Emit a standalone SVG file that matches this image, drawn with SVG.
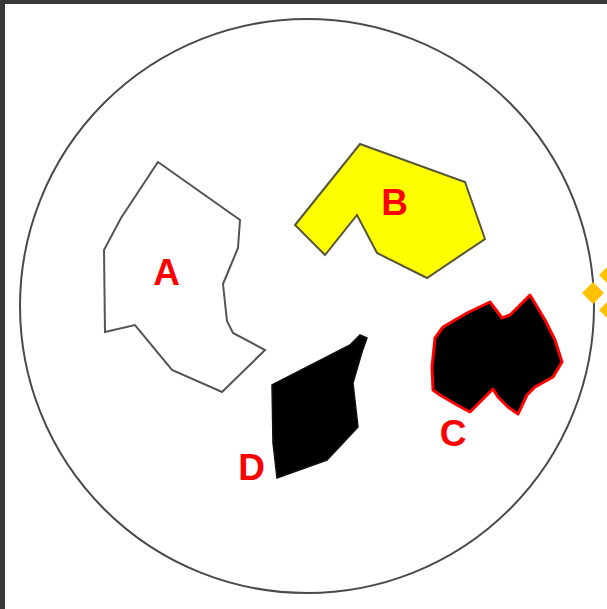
<svg xmlns="http://www.w3.org/2000/svg" width="607" height="609" viewBox="0 0 607 609">
<style>
.lbl{font-family:"Liberation Sans",Arial,sans-serif;font-weight:bold;font-size:37px;fill:#ff0000;text-anchor:middle}
.handle{fill:#ffc000}
</style>
<rect x="0" y="0" width="607" height="609" fill="#ffffff"/>
<rect x="0" y="0" width="607" height="4" fill="#383838"/>
<rect x="0" y="0" width="5" height="609" fill="#383838"/>
<g id="dish">
<circle cx="307" cy="306" r="287" fill="none" stroke="#4a4a4a" stroke-width="2"/>
</g>
<g id="connectors"></g>
<g id="A">
<polygon points="158,162 240,220 238,248 223,284 227,321 233,333 265,350 222,392 172,370 135,325 105,332 104,250 121,218" fill="#ffffff" stroke="#555555" stroke-width="2"/>
<text class="lbl" x="166.5" y="285">A</text>
</g>
<g id="B">
<polygon points="360,144 465,182 485,239 427,278 377,253 357,215 325,255 295,225" fill="#ffff00" stroke="#55553a" stroke-width="2"/>
<text class="lbl" x="394.5" y="215">B</text>
</g>
<g id="C">
<polygon points="435,338 443,327 467,313 490,302 502,318 510,315 520,305 530,295 545,320 555,340 562,362 553,377 535,387 527,395 518,414 508,407 498,397 493,389 487,395 470,412 457,405 440,395 433,390 432,367" fill="#000000" stroke="#ff0000" stroke-width="3" stroke-linejoin="round"/>
<text class="lbl" x="453" y="446">C</text>
</g>
<g id="D">
<polygon points="272,385 350,345 360,335 367,338 362,352 353,383 358,427 327,460 277,478 273,443" fill="#000000" stroke="#111111" stroke-width="1.5"/>
<text class="lbl" x="251.5" y="480">D</text>
</g>
<g id="handles">
<polygon class="handle" points="593,282 604,293 593,304 582,293"/>
<polygon class="handle" points="610,264 621,275 610,286 599,275"/>
<polygon class="handle" points="610,299 621,310 610,321 599,310"/>
</g>
</svg>
